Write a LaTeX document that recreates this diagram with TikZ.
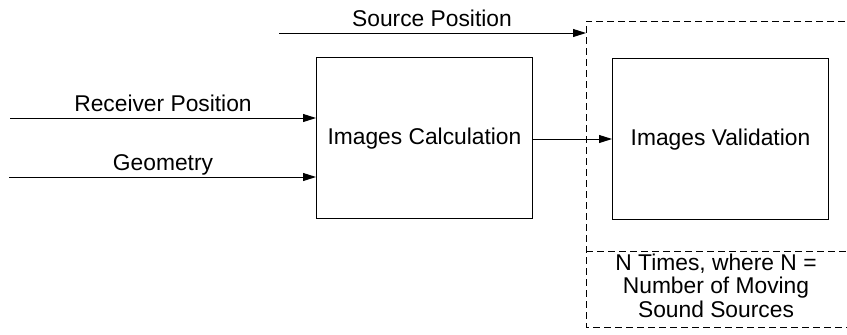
\documentclass[tikz,border=0pt]{standalone}
\usepackage{fontspec}
\setmainfont{Liberation Sans}
\usetikzlibrary{arrows.meta,calc}
\begin{document}
\begin{tikzpicture}[x=1pt,y=-1pt,
  every node/.style={font=\fontsize{22.8}{24}\selectfont, inner sep=0pt},
  block/.style={draw, line width=0.9pt, minimum width=216pt, minimum height=161pt, anchor=north west},
  flow/.style={line width=0.9pt, -{Triangle[length=13pt,width=8pt]}},
  frame/.style={line width=0.9pt, dash pattern=on 7pt off 4pt}]
\useasboundingbox (0,0) rectangle (847,335);

% processing blocks
\node[block] (calc) at (316,57) {};
\node[anchor=base] (calctext) at ($(calc.center)+(0,7)$) {Images Calculation};
\node[block] (valid) at (612,58) {};
\node[anchor=base] (validtext) at ($(valid.center)+(0,7)$) {Images Validation};

% repeated-loop frame, open towards the right
\coordinate (ftl) at (586,21);
\coordinate (fbl) at (586,327);
\coordinate (fdl) at (586,251);
\draw[frame] ($(ftl)+(270,0)$) -- (ftl) -- (fbl) -- ++(270,0);
\draw[frame] (fdl) -- ++(270,0);
\node[align=center, anchor=base, font=\fontsize{22.8}{23.5}\selectfont] (note) at (716,317)
  {N Times, where N =\\Number of Moving\\Sound Sources};

% inputs
\coordinate (srcin) at (279,33);
\coordinate (srcout) at (586,33);
\draw[flow] (srcin) -- (srcout);
\node[anchor=base] (srclbl) at (432,26) {Source Position};

\coordinate (rcvin) at (10,118);
\draw[flow] (rcvin) -- (calc.west |- rcvin);
\node[anchor=base] (rcvlbl) at (163,111) {Receiver Position};

\coordinate (geoin) at (9,177);
\draw[flow] (geoin) -- (calc.west |- geoin);
\node[anchor=base] (geolbl) at (163,170) {Geometry};

% calculation to validation
\draw[flow] (calc.east |- 0,139) -- (valid.west |- 0,139);
\end{tikzpicture}
\end{document}
